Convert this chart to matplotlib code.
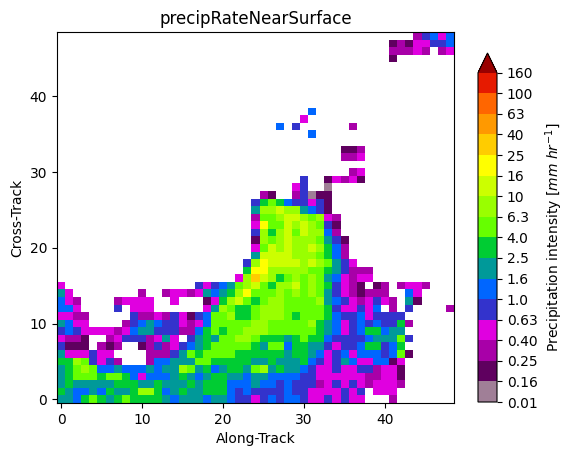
import numpy as np
import matplotlib
matplotlib.use("Agg")
import matplotlib.pyplot as plt
from matplotlib.colors import ListedColormap, BoundaryNorm

# one letter per colour class, '.' = no rain
# row 0 is the bottom row, chunks are columns 0-16, 17-32, 33-48
rain_rows = [
    "ggfhihghihhhhgfgg gfggfeedefeffedd ededd...c",
    "hgffgfhgghjjhfghg ghhhfefeeeefeedd ddede.ddd",
    "ghggggghhhgghgggh ghhhfffgffefeeec dededcdddc",
    "ghiiihiihfdfffghg fghhggfggffffeed dddddccddb",
    "ghijiffgfffgfggji ghfghhgijghggfed deddeecddb",
    "hhjiedec...cffggg iihhhhhgghggghfe degfddffbd",
    "gdddedd....cccegi hiiiihhhhhhghhgf defdfffefib",
    "ebbb.cbc..bcecdef ghiiiiihgiifhhgg edeefhhefh",
    "dccb..cdeeecdgd.e ghgiijjihhhghihh feeeefgggie",
    "efeddddcdfggeeecc fhihiijjjiiiiiih gfdefhhfgg",
    "gfdd....cefgfeedc dfiiiiijjiiiiijh gfdefefeehc",
    "ddcc.....eccdcedb efiijhhijjjihiii hfeefdeeee",
    "ffd....e.ddd..... .dgjihhijjjiiiii heddedf.c.e....c",
    "fdc....cdddd..d.. .bdhjkihijjiiiij gfedcdedc.gb",
    "gd........c..cddc dgfghjliiijijiji gedcbccc..fd",
    "d................ edefgijkihjjkiji hedcb.bc.cddc",
    ". .....djmkjhijiji gfdcdd",
    ". ......hlljjjjjii hgeccc",
    ". ......ejlkkkkjkj iged",
    ". .......gkkkkjjji hfc",
    ". .......dikjkjjkj hfc",
    ". .......bjijkjjji geb",
    ". .......ejhjkikjj fc",
    ". .......dliikjkji eb",
    ". .......ciijkkjij dc",
    ". .......gjjkjjgfe b",
    ". .......ehihfeede b",
    ". ........cb..ceab b",
    ". ............de.. a",
    ". .............e.. bdcdb",
    ". . ...cd",
    ". . .",
    ". . ..ccd",
    ". . ..bbc",
    ". . .",
    ". ..............f. .",
    ". ..........f.e... ...c",
    ". .............d.. .",
    ". ..............f. .",
    ". . .",
    ". . .",
    ". . .",
    ". . .",
    ". . .",
    ". . .",
    ". . ........b",
    ". . ........cccdc.cd",
    ". . ........bcbddeef",
    ". . ...........cefdf",
]

# rain rate standing for each colour class
class_letters = "abcdefghijklm"
class_values = [0.05, 0.2, 0.32, 0.5, 0.8, 1.3, 2.0, 3.2, 5.0, 8.0, 13.0, 20.0, 32.0]

levels = [0.01, 0.16, 0.25, 0.4, 0.63, 1, 1.6, 2.5, 4, 6.3, 10, 16, 25, 40, 63, 100, 160]
level_labels = ["0.01", "0.16", "0.25", "0.40", "0.63", "1.0", "1.6", "2.5", "4.0",
                "6.3", "10", "16", "25", "40", "63", "100", "160"]
level_colors = ["#A07F97", "#5F005F", "#A800A8", "#E000E0", "#3333CC", "#0066FF",
                "#009999", "#00CC33", "#66FF00", "#99FF00", "#CCFF00", "#FFFF00",
                "#FFCC00", "#FF9900", "#FF6600", "#E61A00"]
over_color = "#990000"

lookup = dict(zip(class_letters, class_values))
lookup["."] = np.nan

rain = np.full((49, 49), np.nan)
for r, row in enumerate(rain_rows):
    a, b, c = row.split(" ")
    text = a.ljust(17, ".") + b.ljust(16, ".") + c.ljust(16, ".")
    rain[r] = [lookup[ch] for ch in text]

cmap = ListedColormap(level_colors)
cmap.set_over(over_color)
cmap.set_bad("white")
norm = BoundaryNorm(levels, ncolors=len(level_colors))

fig = plt.figure(figsize=(5.74, 4.55), dpi=100)
ax = fig.add_axes([57 / 574, 52 / 455, 397 / 574, 371 / 455])
im = ax.imshow(rain, origin="lower", cmap=cmap, norm=norm, aspect="auto",
               interpolation="nearest")
ax.set_title("precipRateNearSurface")
ax.set_xlabel("Along-Track", fontsize=10)
ax.set_ylabel("Cross-Track", fontsize=10)

cax = fig.add_axes([478 / 574, 53 / 455, 19 / 574, 349 / 455])
cbar = fig.colorbar(im, cax=cax, extend="max", ticks=levels, spacing="uniform",
                    extendfrac=0.06)
cbar.ax.set_yticklabels(level_labels)
cbar.ax.minorticks_off()
cbar.set_label(r"Precipitation intensity [$mm\ hr^{-1}$]")

fig.savefig("out.png", dpi=100)
